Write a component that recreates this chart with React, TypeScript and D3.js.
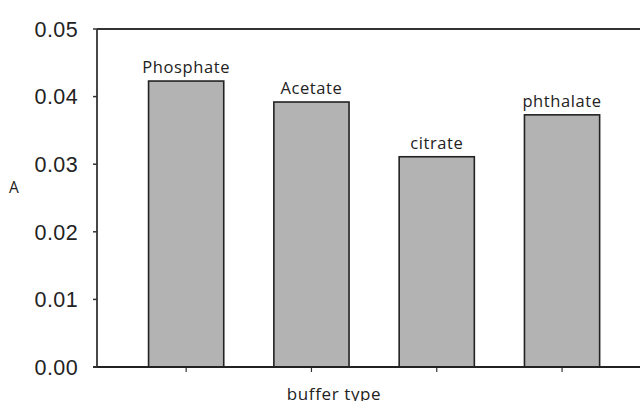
import React from "react";
import * as d3 from "d3";

const categories = ["Phosphate", "Acetate", "citrate", "phthalate"];
const values = [0.0423, 0.0392, 0.0311, 0.0373];
const yTicks = [0, 0.01, 0.02, 0.03, 0.04, 0.05];

export default function App() {
  const W = 640, H = 401;
  const x = d3.scaleBand<string>().domain(categories).range([123.5, 624.7]).paddingInner(0.4).paddingOuter(0.2);
  const y = d3.scaleLinear().domain([0, 0.05]).range([367, 29]);
  const axisX = 97;
  return (
    <svg width={W} height={H} style={{ position: "absolute", left: 0, top: 0, background: "#fff" }}>
      {categories.map((c, i) => (
        <g key={c}>
          <rect x={x(c)!} y={y(values[i])} width={x.bandwidth()} height={y(0) - y(values[i])}
            fill="#b3b3b3" stroke="#222" strokeWidth={1.6} />
          <text x={x(c)! + x.bandwidth() / 2} y={y(values[i]) - 8} textAnchor="middle"
            fontFamily="Open Sans, sans-serif" fontSize={16.5} letterSpacing={0.6} fill="#222">{c}</text>
          <line x1={x(c)! + x.bandwidth() / 2} x2={x(c)! + x.bandwidth() / 2} y1={367} y2={372} stroke="#333" strokeWidth={1.2} />
        </g>
      ))}
      <line x1={axisX} x2={640} y1={y(0.05)} y2={y(0.05)} stroke="#333" strokeWidth={1.8} />
      <line x1={93} x2={640} y1={367} y2={367} stroke="#222" strokeWidth={2} />
      <line x1={axisX} x2={axisX} y1={y(0.05)} y2={367} stroke="#333" strokeWidth={1.8} />
      {yTicks.map((t) => (
        <g key={t}>
          <line x1={93} x2={axisX} y1={y(t)} y2={y(t)} stroke="#333" strokeWidth={1.5} />
          <text x={78} y={y(t)} dy="0.36em" textAnchor="end" fontFamily="Liberation Sans, Arial, sans-serif"
            fontSize={21.5} letterSpacing={0.4} fill="#222">{d3.format(".2f")(t)}</text>
        </g>
      ))}
      <text x={9} y={193} fontFamily="Open Sans, sans-serif" fontSize={15.5} fill="#222">A</text>
      <text x={334} y={400} textAnchor="middle" fontFamily="Open Sans, sans-serif" fontSize={17} letterSpacing={0.6} fill="#222">buffer type</text>
    </svg>
  );
}
